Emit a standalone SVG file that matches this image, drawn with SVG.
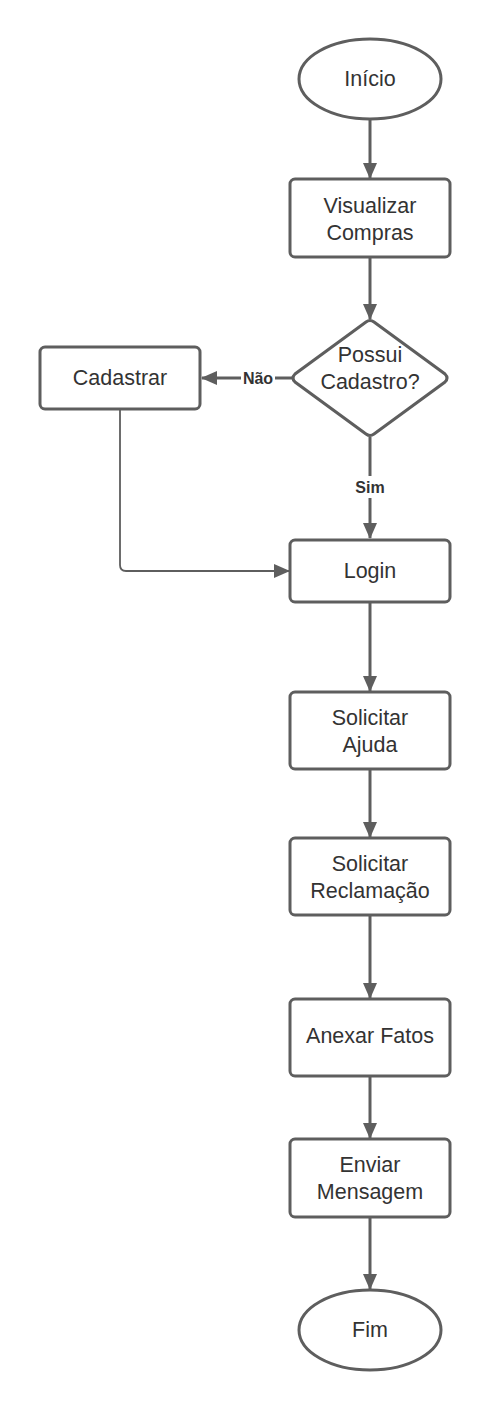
<svg xmlns="http://www.w3.org/2000/svg" width="490" height="1411" viewBox="0 0 490 1411">
<defs>
<style>
.shape{fill:#ffffff;stroke:#5e5e5e;stroke-width:3}
.t{font-family:"Liberation Sans",Arial,sans-serif;font-size:21.5px;fill:#333333;text-anchor:middle}
.lbl{font-family:"Liberation Sans",Arial,sans-serif;font-size:16px;font-weight:bold;fill:#333333;text-anchor:middle}
.c{fill:none;stroke:#5e5e5e;stroke-width:3}
.c2{fill:none;stroke:#5e5e5e;stroke-width:1.8}
</style>
<marker id="ah" viewBox="0 0 16 14" refX="15" refY="7" markerWidth="16" markerHeight="14" markerUnits="userSpaceOnUse" orient="auto">
<path d="M0,0 L16,7 L0,14 Z" fill="#5e5e5e"/>
</marker>
</defs>
<rect width="490" height="1411" fill="#ffffff"/>
<g id="connectors">
<line class="c" x1="370" y1="120" x2="370" y2="178" marker-end="url(#ah)"/>
<line class="c" x1="370" y1="258" x2="370" y2="319" marker-end="url(#ah)"/>
<line class="c" x1="292" y1="378" x2="202" y2="378" marker-end="url(#ah)"/>
<line class="c" x1="370" y1="437" x2="370" y2="538" marker-end="url(#ah)"/>
<path class="c2" d="M120,410 L120,565 Q120,571 126,571 L289,571" marker-end="url(#ah)"/>
<line class="c" x1="370" y1="603" x2="370" y2="691" marker-end="url(#ah)"/>
<line class="c" x1="370" y1="770" x2="370" y2="837" marker-end="url(#ah)"/>
<line class="c" x1="370" y1="916" x2="370" y2="998" marker-end="url(#ah)"/>
<line class="c" x1="370" y1="1077" x2="370" y2="1138" marker-end="url(#ah)"/>
<line class="c" x1="370" y1="1218" x2="370" y2="1289" marker-end="url(#ah)"/>
<rect x="241" y="367" width="34" height="22" fill="#ffffff"/>
<text class="lbl" x="258" y="384">Não</text>
<rect x="352" y="476" width="36" height="22" fill="#ffffff"/>
<text class="lbl" x="370" y="493">Sim</text>
</g>
<g id="inicio">
<ellipse class="shape" cx="370" cy="79" rx="71" ry="40"/>
<text class="t" x="370" y="86">Início</text>
</g>
<g id="visualizar">
<rect class="shape" x="290" y="179" width="160" height="78" rx="5"/>
<text class="t" x="370" y="213">Visualizar</text>
<text class="t" x="370" y="240">Compras</text>
</g>
<g id="possui">
<path class="shape" d="M366,322 Q370,319 374,322 L445,374 Q449,378 445,382 L374,434 Q370,437 366,434 L295,382 Q291,378 295,374 Z"/>
<text class="t" x="370" y="362">Possui</text>
<text class="t" x="370" y="389">Cadastro?</text>
</g>
<g id="cadastrar">
<rect class="shape" x="40" y="347" width="160" height="62" rx="5"/>
<text class="t" x="120" y="385">Cadastrar</text>
</g>
<g id="login">
<rect class="shape" x="290" y="540" width="160" height="62" rx="5"/>
<text class="t" x="370" y="578">Login</text>
</g>
<g id="ajuda">
<rect class="shape" x="290" y="692" width="160" height="77" rx="5"/>
<text class="t" x="370" y="725">Solicitar</text>
<text class="t" x="370" y="752">Ajuda</text>
</g>
<g id="reclamacao">
<rect class="shape" x="290" y="838" width="160" height="77" rx="5"/>
<text class="t" x="370" y="871">Solicitar</text>
<text class="t" x="370" y="898">Reclamação</text>
</g>
<g id="anexar">
<rect class="shape" x="290" y="999" width="160" height="77" rx="5"/>
<text class="t" x="370" y="1043">Anexar Fatos</text>
</g>
<g id="enviar">
<rect class="shape" x="290" y="1139" width="160" height="78" rx="5"/>
<text class="t" x="370" y="1172">Enviar</text>
<text class="t" x="370" y="1199">Mensagem</text>
</g>
<g id="fim">
<ellipse class="shape" cx="370" cy="1330" rx="71" ry="40"/>
<text class="t" x="370" y="1337">Fim</text>
</g>
</svg>
